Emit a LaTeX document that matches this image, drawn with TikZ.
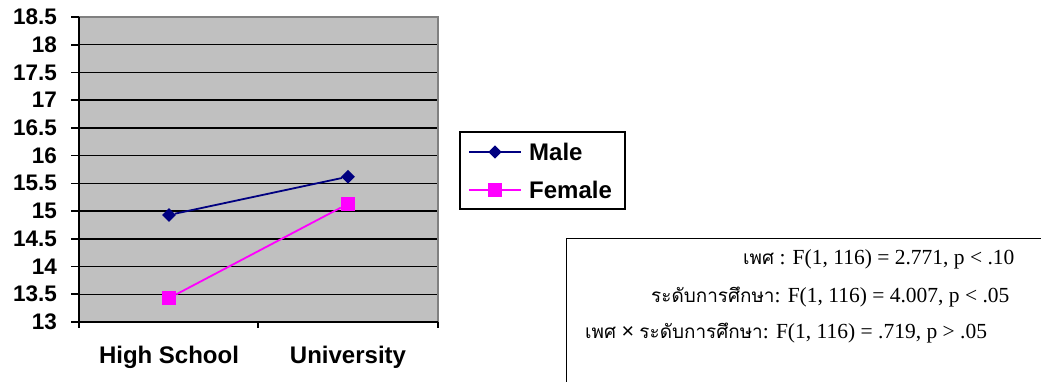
\documentclass[tikz,border=0pt]{standalone}
\usepackage{fontspec}
\setmainfont{Liberation Serif}
\newfontfamily\chartfont{Liberation Sans}
\newfontfamily\thaifont[Script=Thai,Scale=0.88]{Loma}
\usetikzlibrary{shapes.geometric,positioning}
\definecolor{plotgray}{RGB}{192,192,192}
\definecolor{framegray}{RGB}{128,128,128}
\definecolor{malecol}{RGB}{0,0,128}
\definecolor{femalecol}{RGB}{255,0,255}
\tikzset{
    ticklabel/.style={font=\fontsize{22.5}{23}\selectfont\chartfont\bfseries, anchor=east, inner sep=0pt},
    catlabel/.style={font=\fontsize{24}{24}\selectfont\chartfont\bfseries, inner sep=0pt},
    legtext/.style={font=\fontsize{24}{24}\selectfont\chartfont\bfseries, anchor=west, inner sep=0pt},
    stattext/.style={font=\fontsize{21.5}{22}\selectfont, anchor=base west, inner sep=0pt},
    maleline/.style={malecol, line width=1.8pt},
    femaleline/.style={femalecol, line width=1.8pt},
    malemark/.style={diamond, fill=malecol, inner sep=0pt, minimum size=14pt},
    femalemark/.style={rectangle, fill=femalecol, inner sep=0pt, minimum size=14pt}
}
\begin{document}
\begin{tikzpicture}[x=1pt,y=1pt]
    \clip (0,0) rectangle (1041,381);
    \useasboundingbox (0,0) rectangle (1041,381);

    % Plot area
    \begin{scope}[y=55.4545pt, yshift=-661.9pt]
        \fill[plotgray] (79,13) rectangle (438,18.5);
        \foreach \v in {13.5,14,14.5,15,15.5,16,16.5,17,17.5,18}
            \draw[line width=1.4pt] (79,\v) -- (438,\v);
        \draw[framegray, line width=1.4pt] (79,18.5) -- (438,18.5) -- (438,13);
        \draw[line width=1.6pt] (79,18.5) -- (79,13) -- (438,13);
        % y ticks
        \foreach \v in {13,13.5,14,14.5,15,15.5,16,16.5,17,17.5,18,18.5} {
            \draw[line width=1.6pt] (71,\v) -- (79,\v);
            \node[ticklabel] at (57,\v) {\v};
        }
        % x ticks
        \foreach \x in {79,258,438}
            \draw[line width=1.6pt] (\x,13) -- (\x,12.89);

        % Male
        \node[malemark] (mhigh) at (169,14.93) {};
        \node[malemark] (muni) at (348,15.62) {};
        \draw[maleline] (mhigh) -- (muni);

        % Female
        \node[femalemark] (fhigh) at (169,13.43) {};
        \node[femalemark] (funi) at (348,15.13) {};
        \draw[femaleline] (fhigh) -- (funi);
    \end{scope}

    \node[catlabel] (high) at (169,24) {High School};
    \node[catlabel] (uni) at (348,24) {University};

    % Legend
    \node[draw, line width=1.5pt, minimum width=165pt, minimum height=77pt, anchor=north west] (legend) at (459,250) {};
    \coordinate (lm1) at (469,229);
    \coordinate (lm2) at (521,229);
    \draw[maleline] (lm1) -- (lm2) node[midway, malemark] (lmmark) {};
    \node[legtext] (lmale) at (529,229) {Male};
    \coordinate (lf1) at (469,191);
    \coordinate (lf2) at (521,191);
    \draw[femaleline] (lf1) -- (lf2) node[midway, femalemark] (lfmark) {};
    \node[legtext] (lfemale) at (529,191) {Female};

    % Statistics
    \node[draw, line width=1.3pt, minimum width=520pt, minimum height=200pt, anchor=north west] (stats) at (566,143) {};
    \node[stattext] (sex) at (743,117) {{\thaifont เพศ} : F(1, 116) = 2.771, p < .10};
    \node[stattext] (edu) at (651,79) {{\thaifont ระดับการศึกษา}: F(1, 116) = 4.007, p < .05};
    \node[stattext] (inter) at (585,43) {{\thaifont เพศ} {\chartfont ×} {\thaifont ระดับการศึกษา}: F(1, 116) = .719, p > .05};
\end{tikzpicture}
\end{document}
